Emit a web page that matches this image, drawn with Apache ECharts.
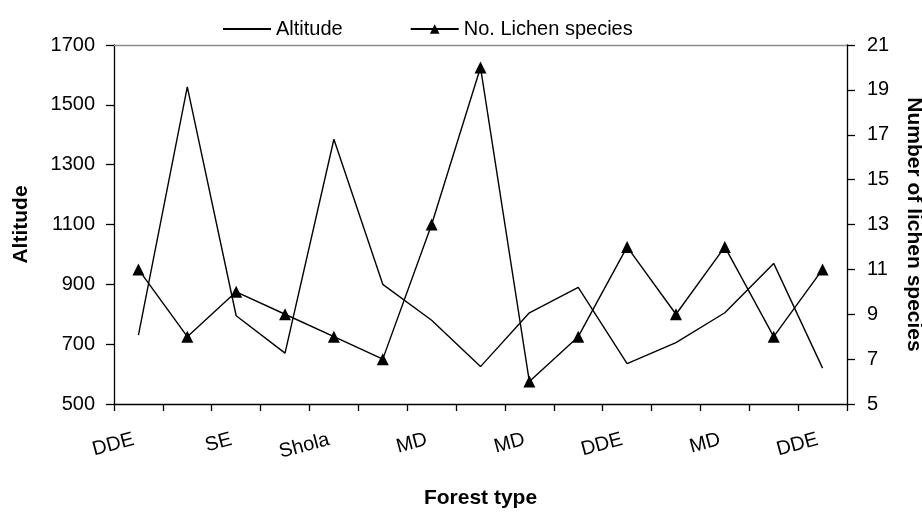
<!DOCTYPE html>
<html>
<head>
<meta charset="utf-8">
<script src="https://cdn.jsdelivr.net/npm/echarts@6/dist/echarts.min.js"></script>
<style>html,body{margin:0;padding:0;background:#fff;}#c{width:922px;height:513px;}</style>
</head>
<body>
<div id="c"></div>
<script>
var categories = ['DDE','SE','SE','Shola','Shola','MD','MD','MD','MD','DDE','DDE','MD','MD','DDE','DDE'];
var altitude = [730,1560,795,670,1385,900,780,625,805,890,635,705,805,970,620];
var lichenSpecies = [11,8,10,9,8,7,13,20,6,8,12,9,12,8,11];
var leftTicks = {min:500, max:1700, interval:200};
var rightTicks = {min:5, max:21, interval:2};

var FONT = "'Liberation Sans', Arial, sans-serif";
var chart = echarts.init(document.getElementById('c'), null, {renderer:'canvas'});
chart.setOption({
  animation:false,
  backgroundColor:'#ffffff',
  textStyle:{fontFamily:FONT, color:'#000'},
  legend:{
    left:217, top:14, itemWidth:48, itemHeight:12, itemGap:67,
    textStyle:{fontSize:20, color:'#000', fontFamily:FONT},
    data:[{name:'Altitude', itemStyle:{opacity:0}}, {name:'No. Lichen species'}]
  },
  grid:{left:114, right:75, top:45, bottom:109, containLabel:false, outerBoundsMode:'none'},
  xAxis:[{
    type:'category', data:categories, boundaryGap:true,
    name:'Forest type', nameLocation:'middle', nameGap:84,
    nameTextStyle:{fontSize:21, fontWeight:'bold', color:'#000', fontFamily:FONT},
    axisLine:{lineStyle:{color:'#000', width:1.3}},
    axisTick:{show:true, interval:0, length:7, lineStyle:{color:'#000', width:1.3}},
    axisLabel:{interval:1, rotate:15, margin:34, fontSize:20, color:'#000', fontFamily:FONT, padding:[0,5,0,0]},
    splitLine:{show:false}
  },{
    type:'category', data:categories, position:'top', boundaryGap:true,
    axisLine:{show:true, lineStyle:{color:'#8c8c8c', width:1.3}},
    axisTick:{show:false}, axisLabel:{show:false}, splitLine:{show:false}
  }],
  yAxis:[{
    type:'value', position:'left', min:leftTicks.min, max:leftTicks.max, interval:leftTicks.interval,
    name:'Altitude', nameLocation:'middle', nameGap:82, nameRotate:90,
    nameTextStyle:{fontSize:21, fontWeight:'bold', color:'#000', fontFamily:FONT},
    axisLine:{show:true, lineStyle:{color:'#000', width:1.3}},
    axisTick:{show:true, length:8, lineStyle:{color:'#000', width:1.3}},
    axisLabel:{margin:19, fontSize:20, color:'#000', fontFamily:FONT, formatter:function(v){return String(v);}},
    splitLine:{show:false}
  },{
    type:'value', position:'right', min:rightTicks.min, max:rightTicks.max, interval:rightTicks.interval,
    name:'Number of lichen species', nameLocation:'middle', nameGap:56, nameRotate:-90,
    nameTextStyle:{fontSize:21, fontWeight:'bold', color:'#000', fontFamily:FONT},
    axisLine:{show:true, lineStyle:{color:'#000', width:1.3}},
    axisTick:{show:true, length:8, lineStyle:{color:'#000', width:1.3}},
    axisLabel:{margin:20, fontSize:20, color:'#000', fontFamily:FONT},
    splitLine:{show:false}
  }],
  series:[{
    name:'Altitude', type:'line', data:altitude, xAxisIndex:0, yAxisIndex:0,
    symbol:'none', lineStyle:{color:'#000', width:1.4}, itemStyle:{color:'#000'}
  },{
    name:'No. Lichen species', type:'line', data:lichenSpecies, xAxisIndex:0, yAxisIndex:1,
    symbol:'triangle', symbolSize:12, showSymbol:true,
    lineStyle:{color:'#000', width:1.4}, itemStyle:{color:'#000'}
  }]
});
</script>
</body>
</html>
